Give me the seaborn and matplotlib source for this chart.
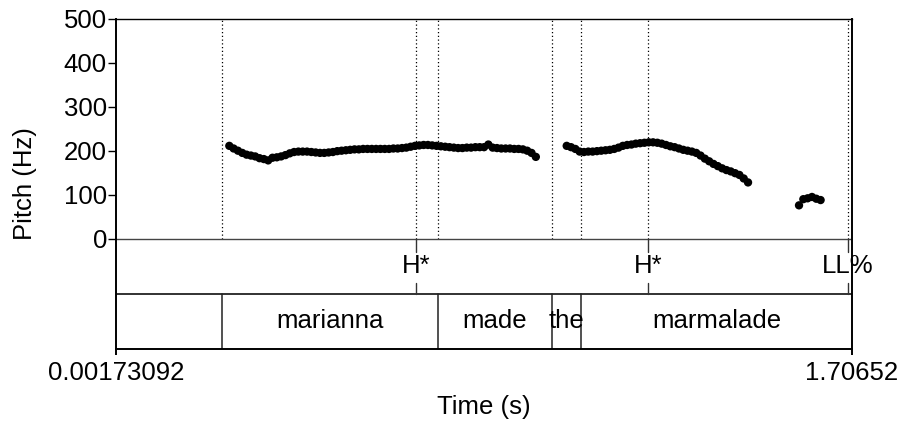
import numpy as np
import pandas as pd
import matplotlib
matplotlib.use("Agg")
import matplotlib.pyplot as plt
import seaborn as sns

# time range of the sound (s)
t_start = 0.00173092
t_end = 1.70652
frame_step = 0.01

# pitch contour (Hz), one value per 10 ms frame, three voiced stretches
seg1_start = 0.2642
seg1_hz = [211, 205, 200, 195, 191, 189, 187, 183, 181, 178,
           184, 185, 187, 190, 194, 197, 198, 198, 198, 197,
           196, 195, 195, 196, 197, 199, 200, 201, 202, 203,
           203, 204, 204, 204, 204, 204, 204, 204, 205, 205,
           206, 207, 209, 211, 212, 213, 213, 212, 211, 210,
           209, 208, 207, 206, 206, 207, 207, 208, 208, 208,
           214, 207, 206, 205, 205, 205, 204, 204, 203, 200,
           195, 186]
seg2_start = 1.0457
seg2_hz = [211, 208, 204, 198, 197, 198, 198, 199, 200, 201,
           202, 204, 207, 211, 213, 214, 216, 217, 218, 219,
           219, 218, 216, 213, 210, 208, 205, 202, 200, 198,
           195, 189, 182, 176, 170, 165, 160, 156, 153, 149,
           145, 137, 128]
seg3_start = 1.5838
seg3_hz = [76, 90, 92, 95, 91, 88]

# tone tier (points)
tone_times = [0.6973, 1.2340, 1.6961]
tone_labels = ["H*", "H*", "LL%"]

# word tier (intervals)
word_bounds = [t_start, 0.2473, 0.7469, 1.0123, 1.0784, t_end]
word_labels = ["", "marianna", "made", "the", "marmalade"]

rows = []
for start, hz in [(seg1_start, seg1_hz), (seg2_start, seg2_hz), (seg3_start, seg3_hz)]:
    for i, v in enumerate(hz):
        rows.append({"time": start + i * frame_step, "pitch": v})
df = pd.DataFrame(rows)

sns.set_style("ticks")
plt.rcParams["font.family"] = ["Liberation Sans", "DejaVu Sans"]
for key in ["text.color", "axes.labelcolor", "xtick.color", "ytick.color", "axes.edgecolor"]:
    plt.rcParams[key] = "black"
fs = 18.5

fig = plt.figure(figsize=(9.03, 4.22), dpi=100)
ax = fig.add_axes([116 / 903, 1 - 349 / 422, 736 / 903, (349 - 18.5) / 422])

tier_h = 125  # each tier takes the height of 125 Hz on the pitch scale
y_bottom = -2 * tier_h

# dotted lines over the pitch area at every boundary / point
for t in tone_times + word_bounds[1:-1]:
    ax.plot([t, t], [0, 500], color="black", lw=0.9, ls=(0, (1, 2)))

sns.scatterplot(data=df, x="time", y="pitch", ax=ax, color="black",
                s=36, edgecolor="none", linewidth=0, zorder=3)

# tier separators
ax.axhline(0, color="#444444", lw=1.0)
ax.axhline(-tier_h, color="#222222", lw=1.3)

# tone tier
mid1 = -tier_h / 2
for t, lab in zip(tone_times, tone_labels):
    ax.plot([t, t], [0, -30], color="#333333", lw=1.0)
    ax.plot([t, t], [-100, -tier_h], color="#333333", lw=1.0)
    ax.text(t, mid1, lab, ha="center", va="center", fontsize=fs)

# word tier
mid2 = -1.5 * tier_h
for b in word_bounds[1:-1]:
    ax.plot([b, b], [-tier_h, y_bottom], color="#222222", lw=1.1)
for a, b, lab in zip(word_bounds[:-1], word_bounds[1:], word_labels):
    ax.text((a + b) / 2, mid2, lab, ha="center", va="center", fontsize=fs)

ax.set_xlim(t_start, t_end)
ax.set_ylim(y_bottom, 500)
ax.set_yticks([0, 100, 200, 300, 400, 500])
ax.set_xticks([t_start, t_end])
ax.set_xticklabels(["0.00173092", "1.70652"])
ax.tick_params(axis="y", direction="out", length=5.8, width=1.0, pad=0.7, labelsize=fs)
ax.tick_params(axis="x", direction="out", length=4.3, width=1.4, pad=4, labelsize=fs)
ax.set_xlabel("Time (s)", fontsize=fs)
ax.set_ylabel("Pitch (Hz)", fontsize=fs)
ax.xaxis.set_label_coords(0.5, -0.14)
ax.yaxis.set_label_coords(-0.108, 0.5)

for side in ["left", "right", "bottom"]:
    ax.spines[side].set_linewidth(1.4)
ax.spines["top"].set_linewidth(1.0)

fig.savefig("out.png", dpi=100)
